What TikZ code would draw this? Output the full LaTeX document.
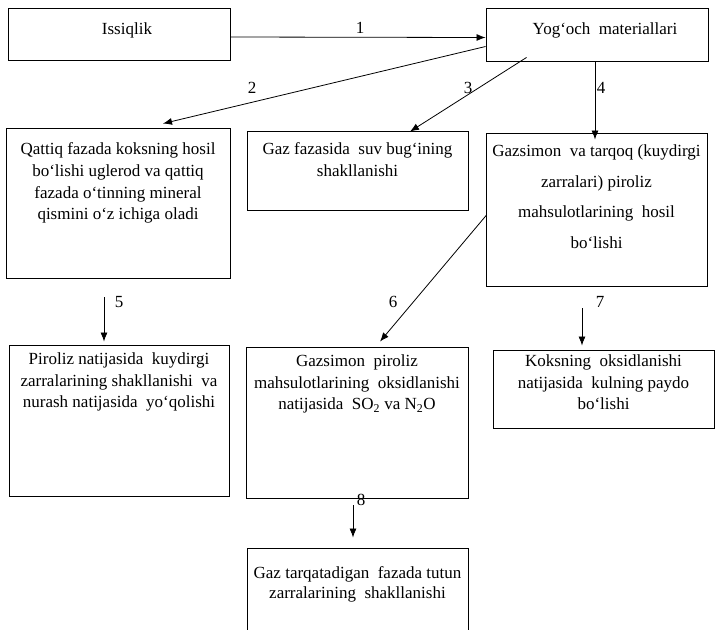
\documentclass[tikz,border=0pt]{standalone}
\usepackage{fontspec}
\setmainfont{Liberation Serif}
\usetikzlibrary{calc,positioning,arrows.meta}
\tikzset{
  box/.style={draw,line width=0.9pt,inner sep=0pt},
  txt/.style={align=center,inner sep=0pt,anchor=north,font=\fontsize{17}{21.7}\selectfont},
  num/.style={inner sep=0pt,font=\fontsize{17}{20}\selectfont},
  arr/.style={-{Latex[length=9pt,width=7pt]},line width=0.8pt}
}

\begin{document}
\begin{tikzpicture}[x=1pt,y=-1pt]
    \useasboundingbox (0,0) rectangle (716,630);

    \node (issiq) at (119,34) [box,minimum width=222pt,minimum height=52pt] {}; \node (yog) at (597,34.5) [box,minimum width=222pt,minimum height=53pt] {};
    \node (qattiq) at (118,203) [box,minimum width=224pt,minimum height=150pt] {}; \node (gazfaz) at (357.5,170.5) [box,minimum width=221pt,minimum height=79pt] {}; \node (gazsim) at (596.5,209.5) [box,minimum width=221pt,minimum height=153pt] {};
    \node (piroliz) at (119,420.5) [box,minimum width=220pt,minimum height=151pt] {}; \node (gazpir) at (357,422.5) [box,minimum width=222pt,minimum height=151pt] {}; \node (koks) at (603.5,389) [box,minimum width=221pt,minimum height=78pt] {};
    \node (tutun) at (357.5,592) [box,minimum width=221pt,minimum height=88pt] {};

    \node (issiqT) at (127,30) [txt,anchor=center] {Issiqlik}; \node (yogT) at (605,30) [txt,anchor=center] {Yog‘och\ \ materiallari};
    \node (qattiqT) [txt,below=15pt of qattiq.north] {Qattiq\ fazada koksning\ hosil\\ bo‘lishi uglerod va qattiq\\ fazada o‘tinning mineral\\ qismini o‘z ichiga oladi};
    \node (gazfazT) [txt,below=12pt of gazfaz.north] {Gaz fazasida\ \ suv bug‘ining\\ shakllanishi};
    \node (gazsimT) [txt,below=12pt of gazsim.north,font=\fontsize{17}{30.5}\selectfont] {Gazsimon\ \ va tarqoq (kuydirgi\\ zarralari) piroliz\\ mahsulotlarining\ \ hosil\\ bo‘lishi};
    \node (pirolizT) [txt,below=8pt of piroliz.north] {Piroliz natijasida\ \ kuydirgi\\ zarralarining shakllanishi\ \ va\\ nurash natijasida\ \ yo‘qolishi};
    \node (gazpirT) [txt,below=8pt of gazpir.north] {Gazsimon\ \ piroliz\\ mahsulotlarining\ \ oksidlanishi\\ natijasida\ \ SO\textsubscript{2} va N\textsubscript{2}O};
    \node (koksT) [txt,below=5pt of koks.north] {Koksning\ \ oksidlanishi\\ natijasida\ \ kulning paydo\\ bo‘lishi};
    \node (tutunT) [txt,below=19pt of tutun.north,font=\fontsize{17}{19.5}\selectfont] {Gaz tarqatadigan\ \ fazada tutun\\ zarralarining\ \ shakllanishi};

    \node (n1) at (360,28) [num] {1}; \node (n2) at (252,88) [num] {2}; \node (n3) at (468,88) [num] {3}; \node (n4) at (601,88) [num] {4};
    \node (n5) at (119,302) [num] {5}; \node (n6) at (393,302) [num] {6}; \node (n7) at (600,302) [num] {7}; \node (n8) at (361,500) [num] {8};

    \draw[arr] ($(issiq.east)+(0,3)$) -- ($(yog.west)+(0,3)$);
    \draw[arr] ($(yog.west)+(0,12)$) -- ($(qattiq.north)+(45,-4)$);
    \draw[arr] ($(yog.south west)+(41,-4)$) -- ($(gazfaz.north)+(52.5,1)$);
    \draw[arr] ($(yog.south)+(-2,0)$) -- ($(gazsim.north)+(-1.5,7)$);
    \draw[arr] ($(qattiq.south)+(-14,19)$) -- ($(piroliz.north)+(-15,-3)$);
    \draw[arr] ($(gazsim.west)+(1,5.5)$) -- ($(gazpir.north)+(23,-5)$);
    \draw[arr] ($(gazsim.south)+(-14.5,22)$) -- ($(koks.north)+(-21.5,-4)$);
    \draw[arr] ($(gazpir.south)+(-4,7)$) -- ($(tutun.north)+(-4.5,-10)$);

\end{tikzpicture}
\end{document}
